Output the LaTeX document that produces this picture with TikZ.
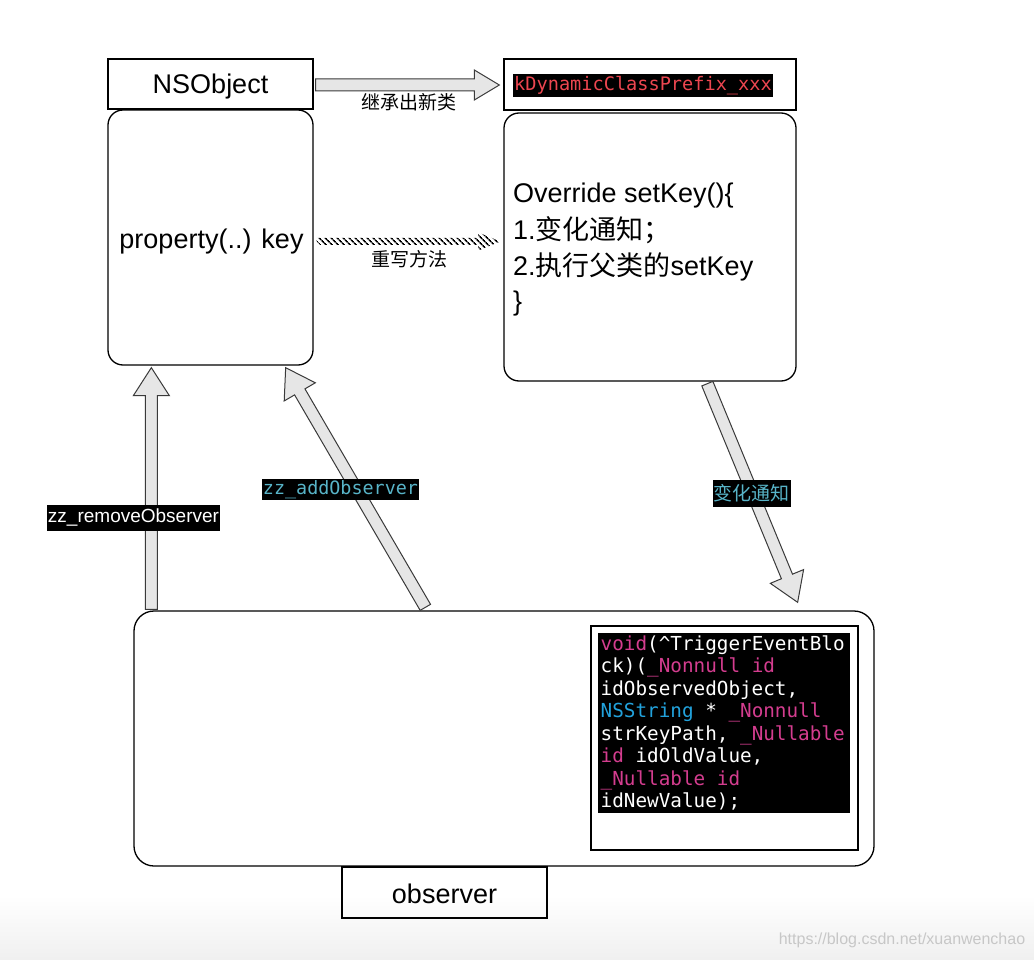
\documentclass[tikz,border=0pt]{standalone}
\usepackage{fontspec}
\setmainfont{Liberation Sans}
\newfontfamily\cjk{Noto Sans CJK SC}
\newfontfamily\mono{DejaVu Sans Mono}
\usetikzlibrary{calc,patterns.meta}
\definecolor{arrowfill}{HTML}{E6E6E6}
\definecolor{arrowline}{HTML}{3A3A3A}
\definecolor{cpink}{HTML}{D43D8F}
\definecolor{cblue}{HTML}{22A2DC}
\definecolor{cteal}{HTML}{58B4C8}
\definecolor{kred}{HTML}{EC4650}
\newcommand\msp{\hspace*{0.60205em}}
\newcommand\blockarrow[6][]{%
  \path[#1] let \p1=(#2), \p2=(#3),
    \n1={atan2(\y2-\y1,\x2-\x1)}, \n2={veclen(\x2-\x1,\y2-\y1)} in
    [shift={(\p1)},rotate=\n1]
    (0pt,-#4pt) -- ({\n2-#6pt},-#4pt) -- ({\n2-#6pt},-#5pt) -- (\n2,0pt)
    -- ({\n2-#6pt},#5pt) -- ({\n2-#6pt},#4pt) -- (0pt,#4pt) -- cycle;}
\tikzset{
  box/.style={draw, line width=1.3pt, inner sep=0pt},
  rbox/.style={box, rounded corners=15pt},
  bigtext/.style={font=\fontsize{27}{32}\selectfont, inner sep=0pt},
  lbl/.style={font=\cjk\fontsize{19}{22}\selectfont, inner sep=0pt},
  barrow/.style={fill=arrowfill, draw=arrowline, line width=1pt},
  hatch/.style={pattern={Lines[angle=-45,distance=4pt,line width=1.7pt]}, pattern color=black},
}
\begin{document}
\begin{tikzpicture}[x=1pt,y=-1pt]
\useasboundingbox (0,0) rectangle (1034,960);
\shade[top color=white, bottom color=black!6] (0,895) rectangle (1034,960);

% boxes
\node[box, minimum width=205pt, minimum height=50pt] (nsobj) at (210.5,84) {};
\node[rbox, minimum width=205pt, minimum height=255pt] (propbox) at (210.5,237.5) {};
\node[box, minimum width=292pt, minimum height=51pt] (kdyn) at (650,84.5) {};
\node[rbox, minimum width=292pt, minimum height=268pt] (ovr) at (650,247) {};
\node[box, rounded corners=20pt, minimum width=740pt, minimum height=255pt] (big) at (504,738.5) {};
\node[box, minimum width=267pt, minimum height=224pt] (inner) at (724.5,738) {};
\node[box, minimum width=205pt, minimum height=51pt] (obsbox) at (444.5,892.5) {};

% texts
\node[bigtext, anchor=base] (tns) at (210.5,94) {NSObject};
\node[bigtext, anchor=base] (tprop) at (211.5,249) {property(..) key};
\node[bigtext, anchor=base] (tobs) at (444.5,903) {observer};
\node[fill=black, text=kred, inner xsep=1.5pt, inner ysep=0pt, minimum height=23pt,
      font=\mono\fontsize{18.6}{22}\selectfont] (tkdyn) at (643,85.5) {kDynamicClassPrefix\_xxx};
\node[bigtext, anchor=base west] (o1) at (513,203) {Override setKey()\{};
\node[bigtext, anchor=base west] (o2) at (513,240) {1.{\cjk 变化通知；}};
\node[bigtext, anchor=base west] (o3) at (513,276) {2.{\cjk 执行父类的}setKey};
\node[bigtext, anchor=base west] (o4) at (513,311) {\}};

% arrows
\blockarrow[barrow]{$(nsobj.east)+(2,1)$}{$(kdyn.west)+(-4,0.5)$}{6}{15}{25}
\node[lbl] (linherit) at (409,102) {继承出新类};

\blockarrow[hatch]{$(propbox.east)+(3,4)$}{$(ovr.west)+(-3,-5.5)$}{3.5}{9}{22}
\node[lbl] (lrewrite) at (409,259) {重写方法};

\blockarrow[barrow]{$(big.north west)+(18,-1)$}{$(propbox.south west)+(44,2)$}{6}{18}{28}
\blockarrow[barrow]{$(big.north west)+(292,-3)$}{$(propbox.south east)+(-28,2)$}{6}{18}{28}
\blockarrow[barrow]{$(ovr.south west)+(204,2)$}{$(big.north east)+(-77,-8)$}{6}{18}{28}

\node[fill=black, text=white, inner xsep=0.5pt, inner ysep=0pt, minimum height=26pt,
      font=\fontsize{19}{22}\selectfont] (lremove) at (133.5,518) {zz\_removeObserver};
\node[fill=black, text=cteal, inner xsep=1pt, inner ysep=0pt, minimum height=21pt,
      font=\mono\fontsize{18.4}{22}\selectfont] (ladd) at (340.5,489.5) {zz\_addObserver};
\node[fill=black, text=cteal, inner xsep=1pt, inner ysep=0pt, minimum height=27pt,
      font=\cjk\fontsize{19}{22}\selectfont] (lchange) at (751.5,493.5) {变化通知};

% code
\node[fill=black, text=white, anchor=north west, text width=247pt, align=left,
      inner xsep=2.5pt, inner ysep=2pt, minimum height=180pt,
      font=\mono\fontsize{19.3}{22.5}\selectfont] (code) at (598,633)
  {{\color{cpink}void}(\textasciicircum TriggerEventBlo\\
   ck)({\color{cpink}\_Nonnull\msp id}\\
   idObservedObject,\\
   {\color{cblue}NSString}\msp*\msp{\color{cpink}\_Nonnull}\\
   strKeyPath,\msp{\color{cpink}\_Nullable}\\
   {\color{cpink}id}\msp idOldValue,\\
   {\color{cpink}\_Nullable\msp id}\\
   idNewValue);};

\node[text=black!22, font=\fontsize{16}{18}\selectfont, inner sep=0pt] (wm) at (902,940)
  {https://blog.csdn.net/xuanwenchao};
\end{tikzpicture}
\end{document}
